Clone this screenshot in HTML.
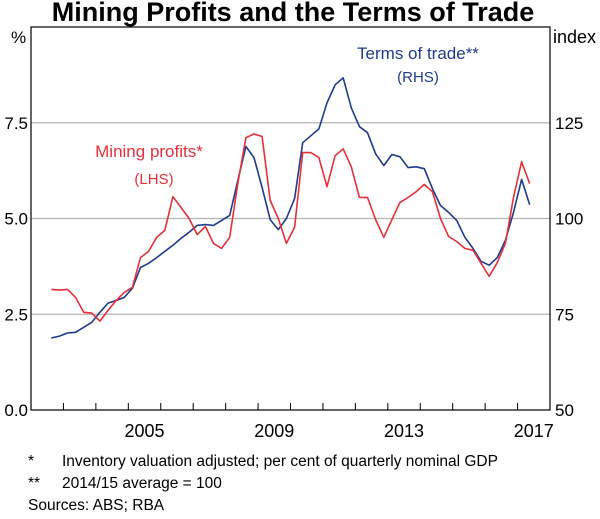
<!DOCTYPE html>
<html><head><meta charset="utf-8"><style>
html,body{margin:0;padding:0;background:#fff;}
body{width:600px;height:514px;overflow:hidden;font-family:"Liberation Sans",Arial,sans-serif;}
svg text{font-family:"Liberation Sans",Arial,sans-serif;}
</style></head><body>
<svg id="chart" width="600" height="514" xmlns="http://www.w3.org/2000/svg">
<text x="293" y="21" text-anchor="middle" font-size="27" font-weight="bold" fill="#000">Mining Profits and the Terms of Trade</text>
<g id="grid"></g>
<g id="series"></g>
<rect x="31" y="27" width="519" height="383" fill="none" stroke="#000" stroke-width="1.2"/>
<g id="axes"></g>
<text x="11" y="43" font-size="17" fill="#000">%</text>
<text x="553" y="43" font-size="18" fill="#000">index</text>
<text x="149" y="157" text-anchor="middle" font-size="17" fill="#e8303a">Mining profits*</text>
<text x="154" y="184" text-anchor="middle" font-size="15" fill="#e8303a">(LHS)</text>
<text x="418" y="59" text-anchor="middle" font-size="17" fill="#1f3b8f">Terms of trade**</text>
<text x="418" y="82" text-anchor="middle" font-size="15" fill="#1f3b8f">(RHS)</text>
<text x="28" y="466" font-size="15.5">*</text>
<text x="62" y="466" font-size="15.5">Inventory valuation adjusted; per cent of quarterly nominal GDP</text>
<text x="28" y="488" font-size="15.5">**</text>
<text x="62" y="488" font-size="15.5">2014/15 average = 100</text>
<text x="28" y="510" font-size="15.5">Sources: ABS; RBA</text>
</svg>
<script>
const startYear = 2002.625;
const profits = [3.15,3.13,3.15,2.94,2.55,2.53,2.32,2.60,2.86,3.07,3.20,3.98,4.14,4.51,4.69,5.57,
5.29,5.00,4.58,4.79,4.35,4.22,4.51,5.91,7.11,7.21,7.14,5.47,5.00,4.35,4.77,
6.72,6.72,6.59,5.83,6.64,6.82,6.35,5.55,5.55,4.97,4.51,4.97,5.42,5.55,5.70,5.89,
5.70,5.00,4.53,4.40,4.22,4.17,3.83,3.49,3.85,4.35,5.55,6.48,5.91];
const termsOfTrade = [68.8,69.3,70.1,70.3,71.6,72.9,75.5,77.9,78.6,79.4,81.8,87.2,88.3,89.8,91.4,93.0,
94.8,96.4,98.2,98.4,98.2,99.5,100.8,109.9,118.8,115.9,108.1,99.7,97.1,100.0,105.2,
119.8,121.6,123.4,130.2,134.9,136.7,128.9,124.0,122.4,116.9,113.8,116.7,116.1,113.3,113.5,113.0,
107.8,103.4,101.6,99.5,95.1,92.2,88.8,87.8,89.8,94.3,101.6,110.2,103.6];
const leftTicks = ["0.0","2.5","5.0","7.5"];
const rightTicks = ["50","75","100","125"];
const yearLabels = ["2005","2009","2013","2017"];

const NS="http://www.w3.org/2000/svg";
const L=31,R=550,T=27,B=410;
const x=t=>L+(t-2002)*(R-L)/16;
const yL=v=>B-v*(B-T)/10;
const yR=v=>B-(v-50)*(B-T)/100;
function mk(tag,attrs,parent){const e=document.createElementNS(NS,tag);for(const k in attrs)e.setAttribute(k,attrs[k]);parent.appendChild(e);return e;}
const grid=document.getElementById('grid'),axes=document.getElementById('axes'),series=document.getElementById('series');
leftTicks.forEach((lab,i)=>{
  const v=parseFloat(lab), y=yL(v);
  if(v>0){const g=mk('line',{x1:L,x2:R,y1:y,y2:y,stroke:'#b5b5b5','stroke-width':1.2},grid);
    
    }
  const t=mk('text',{x:28,y:y+6,'text-anchor':'end','font-size':17},axes);t.textContent=lab;
  
  
});
rightTicks.forEach(lab=>{
  const y=yR(parseFloat(lab));
  const t=mk('text',{x:555,y:y+6,'font-size':17},axes);t.textContent=lab;
  
  
});
for(let yr=2003;yr<=2017;yr++){
  const tk=mk('line',{x1:x(yr),x2:x(yr),y1:B,y2:B-7,stroke:'#000','stroke-width':1},axes);
  
  
}
yearLabels.forEach(lab=>{
  const t=mk('text',{x:x(parseFloat(lab)+0.5),y:437,'text-anchor':'middle','font-size':18},axes);t.textContent=lab;
  
  
});
const pts=(arr,fy)=>arr.map((v,i)=>x(startYear+i*0.25).toFixed(1)+','+fy(v).toFixed(1)).join(' ');
const tot=mk('polyline',{points:pts(termsOfTrade,yR),fill:'none',stroke:'#1f3b8f','stroke-width':1.6,'stroke-linejoin':'round'},series);


const mp=mk('polyline',{points:pts(profits,yL),fill:'none',stroke:'#e8303a','stroke-width':1.6,'stroke-linejoin':'round'},series);


</script>
</body></html>
